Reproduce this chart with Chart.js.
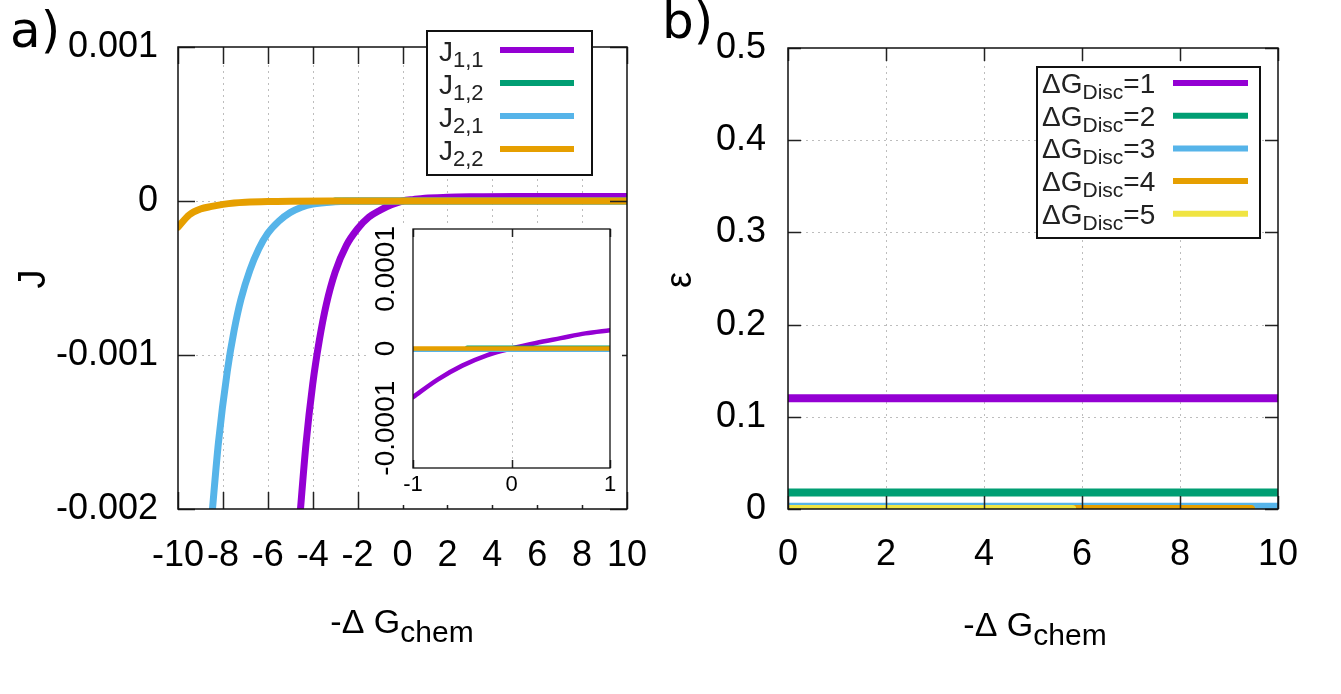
<!DOCTYPE html>
<html>
<head>
<meta charset="utf-8">
<script src="https://cdn.jsdelivr.net/npm/chart.js@4.4.0/dist/chart.umd.min.js"></script>
<style>
body { margin: 0; background: #fff; width: 1341px; height: 694px; overflow: hidden; position: relative; }
canvas { position: absolute; }
#cA { left: 0; top: 0; }
#cIn { left: 366px; top: 226px; }
#cB { left: 650px; top: 0; }
</style>
</head>
<body>
<canvas id="cA" width="650" height="694"></canvas>
<canvas id="cIn" width="256" height="279"></canvas>
<canvas id="cB" width="691" height="694"></canvas>
<script>
// panel a) main curves
const j11X = [-4.6, -4.3, -4.0, -3.7, -3.4, -3.0, -2.5, -2.0, -1.5, -1.0, -0.5, 0, 0.5, 1, 2, 3, 5, 7, 10];
const j11Y = [-0.0021, -0.00158, -0.00119, -0.0009, -0.000675, -0.000462, -0.000288, -0.00018, -0.000105, -0.00006, -0.000025, 0, 0.00001, 0.000018, 0.000024, 0.000027, 0.00003, 0.00003, 0.00003];
const j12X = [-3, 0, 10];
const j12Y = [0, 0, 0];
const j21X = [-8.5, -8.2, -7.8, -7.5, -7.2, -6.8, -6.4, -6.0, -5.5, -5.0, -4.5, -4.0, -3.0, -2.0, 0, 10];
const j21Y = [-0.00206, -0.00157, -0.0011, -0.00084, -0.00064, -0.00045, -0.00031, -0.00021, -0.00013, -0.000075, -0.00004, -0.00002, -0.000005, 0, 0, 0];
const j22X = [-10, -9.5, -9, -8.5, -8, -7.5, -7, -6, -5, -3, 0, 10];
const j22Y = [-0.00017, -0.00009, -0.000052, -0.000035, -0.000022, -0.000013, -0.000008, -0.000003, -0.000001, 0, 0, 0];

// panel a) inset
const inJ11X = [-1, -0.75, -0.5, -0.25, 0, 0.25, 0.5, 0.75, 1];
const inJ11Y = [-0.000061, -0.000039, -0.0000215, -0.0000085, 0, 0.000007, 0.000013, 0.000019, 0.000023];
const inJ12X = [-0.45, 1];
const inJ12Y = [0.000001, 0.000001];
const inJ21X = [-1, 1];
const inJ21Y = [-0.0000015, -0.0000015];
const inJ22X = [-1, 1];
const inJ22Y = [0, 0];

// panel b)
const bX = [0, 10];
const eps1 = [0.12, 0.12];
const eps2 = [0.018, 0.018];
const eps3 = [0.0025, 0.0025];
const eps4X = [0, 9.45];
const eps4 = [0, 0];
const eps5X = [0, 5.8];
const eps5 = [0, 0];

// ticks
const aXTicks = [-10, -8, -6, -4, -2, 0, 2, 4, 6, 8, 10];
const aYTicks = [0.001, 0, -0.001, -0.002];
const aYLabels = ['0.001', '0', '-0.001', '-0.002'];
const inXTicks = [-1, 0, 1];
const inYTicks = [0.0001, 0, -0.0001];
const inYLabels = ['0.0001', '0', '-0.0001'];
const bXTicks = [0, 2, 4, 6, 8, 10];
const bYTicks = [0, 0.1, 0.2, 0.3, 0.4, 0.5];
const bYLabels = ['0', '0.1', '0.2', '0.3', '0.4', '0.5'];

const legA = [['J', '1,1'], ['J', '1,2'], ['J', '2,1'], ['J', '2,2']];
const legB = [['ΔG', 'Disc', '=1'], ['ΔG', 'Disc', '=2'], ['ΔG', 'Disc', '=3'], ['ΔG', 'Disc', '=4'], ['ΔG', 'Disc', '=5']];

const C1 = '#9400d3', C2 = '#009e73', C3 = '#56b4e9', C4 = '#e69f00', C5 = '#f0e442';
const FONT = '"Liberation Sans", Arial, sans-serif';
Chart.defaults.font.family = FONT;
Chart.defaults.color = '#000';

function pts(xs, ys) { return xs.map((v, i) => ({x: v, y: ys[i]})); }

function line(data, color, w, order) {
  return { data: data, borderColor: color, backgroundColor: color, borderWidth: w, showLine: true,
    pointRadius: 0, cubicInterpolationMode: 'monotone', order: order, borderCapStyle: 'round' };
}

// text with subscript: parts = [[text, size, dy], ...]
function drawParts(ctx, parts, x, y, align) {
  let total = 0;
  parts.forEach(p => { ctx.font = p[1] + 'px ' + FONT; total += ctx.measureText(p[0]).width; });
  let cx = align === 'center' ? x - total / 2 : x;
  ctx.textAlign = 'left';
  ctx.textBaseline = 'alphabetic';
  parts.forEach(p => {
    ctx.font = p[1] + 'px ' + FONT;
    ctx.fillText(p[0], cx, y + p[2]);
    cx += ctx.measureText(p[0]).width;
  });
}

function framePlugin(o) {
  return {
    id: 'frame',
    beforeDraw(chart) {
      if (!o.bg) return;
      const ctx = chart.ctx;
      ctx.save(); ctx.fillStyle = '#fff'; ctx.fillRect(0, 0, chart.width, chart.height); ctx.restore();
    },
    beforeDatasetsDraw(chart) {
      const {ctx, chartArea: a, scales: {x, y}} = chart;
      ctx.save();
      ctx.strokeStyle = '#bdbdbd'; ctx.lineWidth = 1; ctx.setLineDash([2, 4]);
      ctx.beginPath();
      x.ticks.forEach(t => {
        const px = Math.round(x.getPixelForValue(t.value)) + 0.5;
        if (px < a.left + 3 || px > a.right - 3) return;
        ctx.moveTo(px, a.top); ctx.lineTo(px, a.bottom);
      });
      if (o.gridY) y.ticks.forEach(t => {
        const py = Math.round(y.getPixelForValue(t.value)) + 0.5;
        if (py < a.top + 3 || py > a.bottom - 3) return;
        ctx.moveTo(a.left, py); ctx.lineTo(a.right, py);
      });
      ctx.stroke();
      ctx.restore();
    },
    afterDatasetsDraw(chart) {
      const {ctx, chartArea: a, scales: {x, y}} = chart;
      ctx.save();
      ctx.strokeStyle = '#222'; ctx.lineWidth = 1.5;
      ctx.beginPath();
      x.ticks.forEach(t => {
        const px = Math.round(x.getPixelForValue(t.value)) + 0.5;
        ctx.moveTo(px, a.bottom); ctx.lineTo(px, a.bottom - o.tick);
        ctx.moveTo(px, a.top); ctx.lineTo(px, a.top + o.tick);
      });
      if (o.ticksY) y.ticks.forEach(t => {
        const py = Math.round(y.getPixelForValue(t.value)) + 0.5;
        ctx.moveTo(a.left, py); ctx.lineTo(a.left + o.tick, py);
        ctx.moveTo(a.right, py); ctx.lineTo(a.right - o.tick, py);
      });
      ctx.stroke();
      ctx.strokeStyle = '#111'; ctx.lineWidth = o.border;
      ctx.strokeRect(a.left, a.top, a.right - a.left, a.bottom - a.top);
      ctx.restore();
    }
  };
}

function fixTicks(vals) { return s => { s.ticks = vals.map(v => ({value: v})); }; }
function fitX(h) { return s => { s.height = h; s.paddingLeft = 0; s.paddingRight = 0; }; }
function fitY(w) { return s => { s.width = w; s.paddingTop = 0; s.paddingBottom = 0; }; }

// ---------- panel a ----------
const legendA = {
  id: 'legA',
  afterDraw(chart) {
    const ctx = chart.ctx;
    const cols = [C1, C2, C3, C4];
    ctx.save();
    ctx.fillStyle = '#fff';
    ctx.fillRect(427, 31, 165, 144);
    ctx.strokeStyle = '#111'; ctx.lineWidth = 2;
    ctx.strokeRect(427, 31, 165, 144);
    legA.forEach((l, i) => {
      const yy = 50 + i * 33;
      ctx.fillStyle = '#222';
      drawParts(ctx, [[l[0], 28, 0], [l[1], 22, 6]], 439, yy + 11, 'left');
      ctx.strokeStyle = cols[i]; ctx.lineWidth = 6; ctx.beginPath();
      ctx.moveTo(500, yy); ctx.lineTo(574, yy); ctx.stroke();
    });
    // titles
    ctx.fillStyle = '#000';
    ctx.font = '50px "DejaVu Sans", sans-serif';
    ctx.textAlign = 'left'; ctx.textBaseline = 'alphabetic';
    ctx.fillText('a)', 10, 47);
    ctx.save();
    ctx.translate(45, 279); ctx.rotate(-Math.PI / 2);
    ctx.font = '38px ' + FONT; ctx.textAlign = 'center';
    ctx.fillText('J', 0, 0);
    ctx.restore();
    drawParts(ctx, [['-Δ G', 34, 0], ['chem', 30, 9]], 402, 633, 'center');
    ctx.restore();
  }
};

new Chart(document.getElementById('cA'), {
  type: 'scatter',
  data: { datasets: [
    line(pts(j11X, j11Y), C1, 7, 4),
    line(pts(j12X, j12Y), C2, 7, 3),
    line(pts(j21X, j21Y), C3, 7, 2),
    line(pts(j22X, j22Y), C4, 7, 1)
  ] },
  options: {
    responsive: false, animation: false,
    layout: { padding: { left: 0, right: 23, top: 47, bottom: 105 } },
    plugins: { legend: { display: false }, tooltip: { enabled: false } },
    scales: {
      x: { type: 'linear', min: -10, max: 10, afterBuildTicks: fixTicks(aXTicks),
        afterFit: fitX(80),
        grid: { display: false, drawTicks: false }, border: { display: false },
        ticks: { autoSkip: false, maxRotation: 0, padding: 25, font: { size: 36 } } },
      y: { type: 'linear', min: -0.002, max: 0.001, afterBuildTicks: fixTicks(aYTicks),
        afterFit: fitY(178),
        grid: { display: false, drawTicks: false }, border: { display: false },
        ticks: { padding: 20, font: { size: 36 }, callback: (v, i) => aYLabels[i] } }
    }
  },
  plugins: [framePlugin({ tick: 17, border: 1.5, ticksY: true, gridY: true }), legendA]
});

// ---------- inset ----------
const insetLabels = {
  id: 'inLab',
  afterDraw(chart) {
    const ctx = chart.ctx, y = chart.scales.y;
    ctx.save();
    ctx.fillStyle = '#000';
    ctx.font = '28px ' + FONT; ctx.textAlign = 'center'; ctx.textBaseline = 'middle';
    inYTicks.forEach((v, i) => {
      ctx.save();
      ctx.translate(20, y.getPixelForValue(v)); ctx.rotate(-Math.PI / 2);
      ctx.fillText(inYLabels[i], 0, 0);
      ctx.restore();
    });
    ctx.restore();
  }
};

new Chart(document.getElementById('cIn'), {
  type: 'scatter',
  data: { datasets: [
    line(pts(inJ11X, inJ11Y), C1, 4.5, 4),
    line(pts(inJ12X, inJ12Y), C2, 4.5, 3),
    line(pts(inJ21X, inJ21Y), C3, 4.5, 2),
    line(pts(inJ22X, inJ22Y), C4, 4.5, 1)
  ] },
  options: {
    responsive: false, animation: false,
    layout: { padding: { left: 0, right: 12, top: 3, bottom: 7 } },
    plugins: { legend: { display: false }, tooltip: { enabled: false } },
    scales: {
      x: { type: 'linear', min: -1, max: 1, afterBuildTicks: fixTicks(inXTicks),
        afterFit: fitX(30),
        grid: { display: false, drawTicks: false }, border: { display: false },
        ticks: { autoSkip: false, maxRotation: 0, padding: 4, font: { size: 22 } } },
      y: { type: 'linear', min: -0.00015, max: 0.00015, afterBuildTicks: fixTicks(inYTicks),
        afterFit: fitY(47),
        grid: { display: false, drawTicks: false }, border: { display: false },
        ticks: { display: false } }
    }
  },
  plugins: [framePlugin({ tick: 8, border: 1.3, ticksY: false, gridY: false, bg: true }), insetLabels]
});

// ---------- panel b ----------
const legendB = {
  id: 'legB',
  afterDraw(chart) {
    const ctx = chart.ctx;
    const cols = [C1, C2, C3, C4, C5];
    const ox = -650;
    ctx.save();
    ctx.fillStyle = '#fff';
    ctx.fillRect(1037 + ox, 67, 223, 171);
    ctx.strokeStyle = '#111'; ctx.lineWidth = 2;
    ctx.strokeRect(1037 + ox, 67, 223, 171);
    legB.forEach((l, i) => {
      const yy = 83 + i * 32.7;
      ctx.fillStyle = '#222';
      drawParts(ctx, [[l[0], 28, 0], [l[1], 21, 6], [l[2], 28, 0]], 1042 + ox, yy + 10, 'left');
      ctx.strokeStyle = cols[i]; ctx.lineWidth = 6; ctx.beginPath();
      ctx.moveTo(1173 + ox, yy); ctx.lineTo(1248 + ox, yy); ctx.stroke();
    });
    ctx.fillStyle = '#000';
    ctx.font = '50px "DejaVu Sans", sans-serif';
    ctx.textAlign = 'left'; ctx.textBaseline = 'alphabetic';
    ctx.fillText('b)', 662 + ox, 38);
    ctx.save();
    ctx.translate(691 + ox, 280); ctx.rotate(-Math.PI / 2);
    ctx.font = '36px ' + FONT; ctx.textAlign = 'center';
    ctx.fillText('ε', 0, 0);
    ctx.restore();
    drawParts(ctx, [['-Δ G', 34, 0], ['chem', 30, 9]], 1035 + ox, 636, 'center');
    ctx.restore();
  }
};

new Chart(document.getElementById('cB'), {
  type: 'scatter',
  data: { datasets: [
    line(pts(bX, eps1), C1, 8, 5),
    line(pts(bX, eps2), C2, 8, 4),
    line(pts(bX, eps3), C3, 8, 3),
    line(pts(eps4X, eps4), C4, 8, 2),
    line(pts(eps5X, eps5), C5, 8, 1)
  ] },
  options: {
    responsive: false, animation: false,
    layout: { padding: { left: 0, right: 63, top: 48, bottom: 105 } },
    plugins: { legend: { display: false }, tooltip: { enabled: false } },
    scales: {
      x: { type: 'linear', min: 0, max: 10, afterBuildTicks: fixTicks(bXTicks),
        afterFit: fitX(80),
        grid: { display: false, drawTicks: false }, border: { display: false },
        ticks: { autoSkip: false, maxRotation: 0, padding: 24, font: { size: 36 } } },
      y: { type: 'linear', min: 0, max: 0.5, afterBuildTicks: fixTicks(bYTicks),
        afterFit: fitY(138),
        grid: { display: false, drawTicks: false }, border: { display: false },
        ticks: { padding: 22, font: { size: 36 }, callback: (v, i) => bYLabels[i] } }
    }
  },
  plugins: [framePlugin({ tick: 13, border: 1.5, ticksY: true, gridY: true }), legendB]
});
</script>
</body>
</html>
